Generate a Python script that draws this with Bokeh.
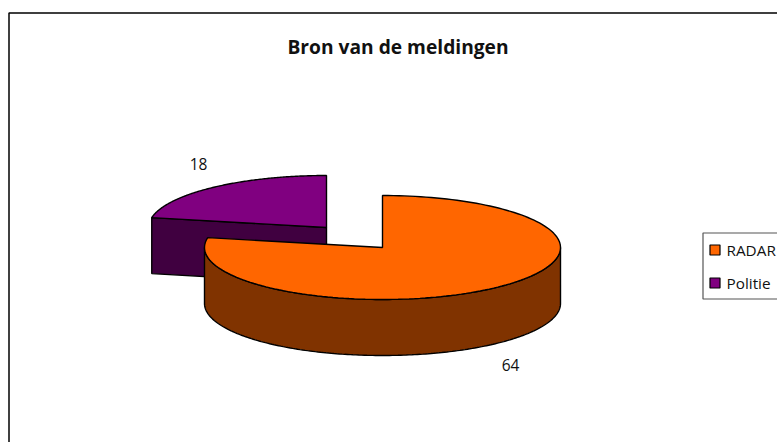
import numpy as np
from bokeh.plotting import figure
from bokeh.models import Range1d
from bokeh.core.properties import value
from bokeh.embed import file_html
from bokeh.resources import INLINE

title = "Bron van de meldingen"
categories = ["RADAR", "Politie"]
values = [64, 18]
top_colors = ["#FF6600", "#800080"]
side_colors = ["#803300", "#400040"]

# pie layout in page pixels
RX, RY, DEPTH = 178, 52, 56
CENTERS = [(382, 247), (326, 227)]
LABEL_POS = [(510, 364), (198, 163)]

p = figure(width=777, height=442, output_backend="svg", toolbar_location=None,
           x_range=Range1d(0, 777), y_range=Range1d(442, 0), min_border=0,
           outline_line_color=None, background_fill_color="white",
           border_fill_color="white")
p.axis.visible = False
p.grid.visible = False

# chart frame (only left and top are inside the window)
p.line([8.5, 8.5, 777], [442, 12.5, 12.5], line_color="black", line_width=1.5)

total = sum(values)
spans = []
a = 0.0
for v in values:
    spans.append((a, a + 360.0 * v / total))
    a += 360.0 * v / total


def ell(c, deg, dy=0.0):
    r = np.radians(deg)
    return c[0] + RX * np.sin(r), c[1] - RY * np.cos(r) + dy


def face(c, a0, a1):
    t = np.linspace(a0, a1, 160)
    x, y = ell(c, t)
    return list(x) + [c[0]], list(y) + [c[1]]


# Politie slice first: it sits behind the RADAR slice
(a0, a1), c = spans[1], CENTERS[1]
x0, y0 = ell(c, a0)
# visible cut face, from outer edge to centre and down
sx = [x0, c[0], c[0], x0]
sy = [y0, c[1], c[1] + DEPTH, y0 + DEPTH]
p.patch(sx, sy, fill_color=side_colors[1], line_color="black", line_width=1.4)
x, y = face(c, a0, a1)
p.patch(x, y, fill_color=top_colors[1], line_color="black", line_width=1.4)

# RADAR slice: outer wall, from the right extreme round the front to the left
(a0, a1), c = spans[0], CENTERS[0]
t = np.linspace(90, 270, 200)
ux, uy = ell(c, t)
lx, ly = ell(c, t, DEPTH)
wx = list(ux) + list(lx[::-1])
wy = list(uy) + list(ly[::-1])
p.patch(wx, wy, fill_color=side_colors[0], line_color="black", line_width=1.4)
x, y = face(c, a0, a1)
p.patch(x, y, fill_color=top_colors[0], line_color="black", line_width=1.4)

# data labels
for (lxp, lyp), v in zip(LABEL_POS, values):
    p.text([lxp], [lyp], text=[str(v)], text_font=value("Open Sans"),
           text_font_size="15.5px", text_color="#111111", text_align="center",
           text_baseline="middle")

# title
p.text([397.5], [45.5], text=[title], text_font=value("Open Sans"),
       text_font_style="bold", text_font_size="19.2px", text_color="#111111",
       text_align="center", text_baseline="middle")

# legend
p.line([777, 702.5, 702.5, 777], [232.5, 232.5, 298.5, 298.5],
       line_color="#555555", line_width=1.2)
for cat, col, ym in zip(categories, top_colors, [249.5, 282.5]):
    p.rect([714.5], [ym], width=10, height=10, fill_color=col,
           line_color="black", line_width=1.2)
    p.text([726], [ym - 0.5], text=[cat], text_font=value("Open Sans"),
           text_font_size="15.3px", text_color="#111111", text_align="left",
           text_baseline="middle")

open("out.html", "w").write(file_html(p, INLINE))
